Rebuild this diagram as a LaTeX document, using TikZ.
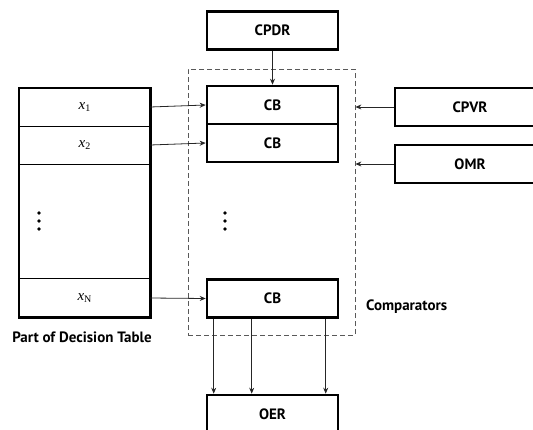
\documentclass[tikz,border=0pt]{standalone}
\usepackage{fontspec}
\setmainfont{PT Sans}
\newfontfamily\cellfont{Liberation Serif}
\usetikzlibrary{arrows.meta}
\tikzstyle{block}=[draw,line width=2.6pt,minimum width=131pt,minimum height=38pt,inner sep=0pt,font=\bfseries\fontsize{15}{17}\selectfont]
\tikzstyle{wide block}=[block,minimum width=150pt]
\tikzstyle{cell}=[minimum width=131pt,minimum height=38pt,inner sep=0pt,font=\cellfont\fontsize{15}{17}\selectfont]
\tikzstyle{link}=[draw,line width=0.8pt,black!85,-{Stealth[length=6pt,width=5pt]}]
\tikzstyle{caption}=[font=\bfseries\fontsize{15}{17}\selectfont,inner sep=0pt]
\newcommand{\xsub}[1]{\textit{x}\raisebox{-2.5pt}{\fontsize{10}{10}\selectfont #1}}

\begin{document}
\begin{tikzpicture}[x=1pt,y=-1pt]
    \path[use as bounding box,clip] (0,0) rectangle (533,429);
    % Registers and comparator blocks
    \foreach \pos/\name/\txt in {{(272.5,30.5)/cpdr/CPDR},{(272.5,105)/cb1/CB},{(272.5,143)/cb2/CB},{(272.5,298.5)/cbn/CB},{(272.5,414)/oer/OER}}
        \node[block] (\name) at \pos {\txt};
    \foreach \pos/\name/\txt in {{(470,107)/cpvr/CPVR},{(470,164)/omr/OMR}}
        \node[wide block] (\name) at \pos {\txt};

    % Comparators frame
    \node[draw,dashed,dash pattern=on 5pt off 3pt,line width=0.8pt,black!65,minimum width=167pt,minimum height=266pt,inner sep=0pt] (comp) at (271.5,202) {};
    \node[caption,anchor=west] (complabel) at (366,307) {Comparators};

    % Part of the decision table
    \foreach \pos/\name/\txt in {{(84.5,107)/x1/1},{(84.5,145)/x2/2},{(84.5,298)/xn/N}}
        \node[cell] (\name) at \pos {\xsub{\txt}};
    \draw[line width=2.6pt] (x1.north west) rectangle (xn.south east);
    \draw[line width=0.8pt] (x1.south west) -- (x1.south east);
    \draw[line width=0.8pt] (x2.south west) -- (x2.south east);
    \draw[line width=0.8pt] (xn.north west) -- (xn.north east);
    \node[caption] (tablelabel) at (82,337) {Part of Decision Table};

    % Vertical dots
    \foreach \y in {213,221,229} {
        \fill (39,\y) circle (1.8pt);
        \fill (225,\y) circle (1.8pt);
    }

    % Connections
    \foreach \source/\dest in {x1/cb1,x2/cb2,xn/cbn}
        \path[link] (\source.east) -- (\dest.west);
    \path[link] (cpdr.south) -- (cb1.north);
    \path[link] (cpvr.west) -- (comp.east |- cpvr.west);
    \path[link] (omr.west) -- (comp.east |- omr.west);
    \foreach \dx in {8,46,120}
        \path[link] ([xshift=\dx pt]cbn.south west) -- ([xshift=\dx pt]oer.north west);
\end{tikzpicture}
\end{document}
